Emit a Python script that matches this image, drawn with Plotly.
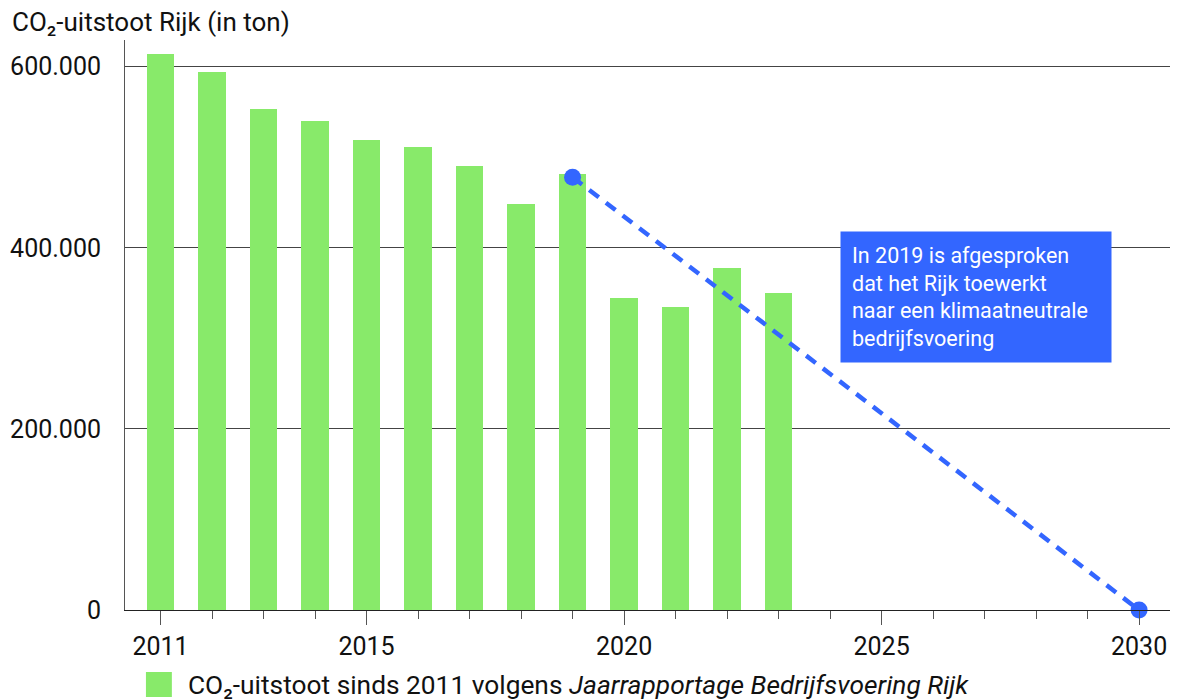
import plotly.graph_objects as go

years = [2011, 2012, 2013, 2014, 2015, 2016, 2017, 2018, 2019, 2020, 2021, 2022, 2023]
emissions = [614000, 594000, 553500, 540000, 519000, 511500, 490500, 448500, 481000, 345000, 335000, 378000, 350500]

target_years = [2019, 2030]
target_values = [478000, 0]

x_tickvals = [2011, 2015, 2020, 2025, 2030]
x_ticktext = ["2011", "2015", "2020", "2025", "2030"]
y_tickvals = [0, 200000, 400000, 600000]
y_ticktext = ["0", "200.000", "400.000", "600.000"]

title_text = "CO₂-uitstoot Rijk (in ton)"
legend_text = "CO₂-uitstoot sinds 2011 volgens <i>Jaarrapportage Bedrijfsvoering Rijk</i>"
note_text = "In 2019 is afgesproken<br>dat het Rijk toewerkt<br>naar een klimaatneutrale<br>bedrijfsvoering"

GREEN = "#88EA6A"
BLUE = "#3366FF"
FONT = "Roboto"
W, H = 1180, 700
ML, MR, MT, MB = 122, 10, 40, 90
PW = W - ML - MR
PH = H - MT - MB


def px_x(px):
    return (px - ML) / PW


def px_y(py):
    return (H - MB - py) / PH


fig = go.Figure()
fig.add_trace(go.Bar(x=years, y=emissions, marker=dict(color=GREEN, line=dict(width=0)),
                     width=0.54, showlegend=False, hoverinfo="x+y"))
fig.add_trace(go.Scatter(x=target_years, y=target_values, mode="lines+markers",
                         line=dict(color=BLUE, width=4.5, dash="12px,9px"),
                         marker=dict(color=BLUE, size=17), showlegend=False, cliponaxis=False))

fig.update_layout(
    width=W, height=H,
    margin=dict(l=ML, r=MR, t=MT, b=MB),
    plot_bgcolor="white", paper_bgcolor="white",
    font=dict(family=FONT, size=25, color="#111111"),
    bargap=0,
    title=dict(text=title_text, x=12 / W, xanchor="left", y=1 - 22 / H, yanchor="middle",
               yref="container", xref="container", font=dict(family=FONT, size=26, color="#111111")),
    xaxis=dict(range=[2010.31, 2030.6], tickvals=x_tickvals, ticktext=x_ticktext,
               ticks="outside", ticklen=14, tickwidth=1, tickcolor="#555555",
               minor=dict(dtick=1, tick0=2011, ticks="outside", ticklen=8, tickwidth=1,
                          tickcolor="#555555", showgrid=False),
               showgrid=False, showline=True, linecolor="#222222", linewidth=1,
               zeroline=False, tickfont=dict(size=25, color="#111111")),
    yaxis=dict(range=[0, 629500], tickvals=y_tickvals, ticktext=y_ticktext,
               showgrid=True, gridcolor="#444444", gridwidth=1,
               showline=True, linecolor="#555555", linewidth=1, zeroline=False,
               ticks="", ticklabelstandoff=18, tickfont=dict(size=25, color="#111111")),
)

fig.add_annotation(xref="paper", yref="paper", x=px_x(839), y=px_y(231),
                   xanchor="left", yanchor="top", text=note_text, showarrow=False,
                   align="left", valign="middle", bgcolor=BLUE, borderpad=11,
                   width=248, height=108, font=dict(family=FONT, size=21.5, color="white"))

fig.add_shape(type="rect", xref="paper", yref="paper", x0=px_x(143), x1=px_x(169),
              y0=px_y(697), y1=px_y(672), fillcolor=GREEN, line=dict(width=0))
fig.add_annotation(xref="paper", yref="paper", x=px_x(183), y=px_y(685),
                   xanchor="left", yanchor="middle", text=legend_text, showarrow=False,
                   font=dict(family=FONT, size=26.3, color="#111111"))

fig.write_html("out.html", config={"displayModeBar": False},
               post_script="document.body.style.margin='0px';")
